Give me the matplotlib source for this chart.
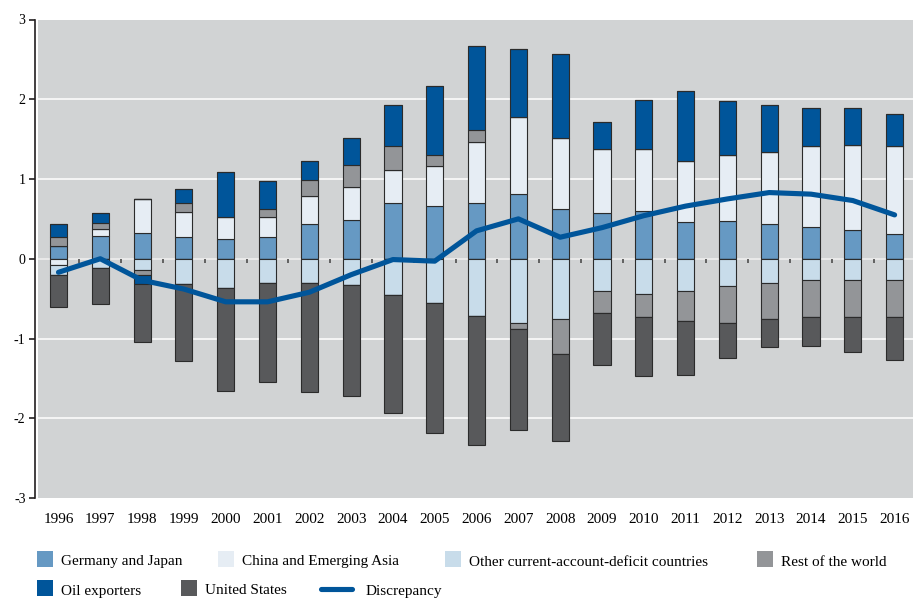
import numpy as np
import matplotlib
matplotlib.use("Agg")
import matplotlib.pyplot as plt
from matplotlib.patches import Rectangle
from matplotlib.lines import Line2D

plt.rcParams['font.family'] = ['Liberation Serif', 'DejaVu Serif']

years = list(range(1996, 2017))

# current-account balances, % of world GDP
germany_japan = [0.165, 0.28, 0.32, 0.27, 0.25, 0.27, 0.44, 0.48, 0.70, 0.66, 0.70,
                 0.81, 0.62, 0.57, 0.60, 0.46, 0.47, 0.43, 0.40, 0.36, 0.31]
china_asia = [-0.08, 0.09, 0.43, 0.32, 0.27, 0.25, 0.35, 0.42, 0.41, 0.50, 0.76,
              0.97, 0.89, 0.80, 0.78, 0.77, 0.83, 0.91, 1.01, 1.07, 1.11]
other_deficit = [-0.12, -0.11, -0.14, -0.32, -0.37, -0.30, -0.30, -0.325, -0.45, -0.55, -0.72,
                 -0.80, -0.75, -0.41, -0.44, -0.41, -0.34, -0.30, -0.27, -0.27, -0.27]
rest_world = [0.105, 0.08, -0.07, 0.11, 0.0, 0.11, 0.20, 0.27, 0.31, 0.14, 0.15,
              -0.08, -0.44, -0.27, -0.29, -0.37, -0.46, -0.46, -0.46, -0.46, -0.46]
oil_exporters = [0.17, 0.12, -0.11, 0.17, 0.57, 0.35, 0.24, 0.34, 0.51, 0.86, 1.06,
                 0.85, 1.06, 0.35, 0.61, 0.87, 0.675, 0.59, 0.48, 0.46, 0.39]
united_states = [-0.41, -0.46, -0.725, -0.96, -1.29, -1.24, -1.37, -1.40, -1.49, -1.64, -1.61,
                 -1.27, -1.10, -0.65, -0.74, -0.68, -0.445, -0.35, -0.37, -0.44, -0.54]
discrepancy = [-0.17, 0.0, -0.27, -0.38, -0.54, -0.54, -0.42, -0.20, -0.01, -0.03, 0.35,
               0.50, 0.27, 0.39, 0.54, 0.66, 0.75, 0.83, 0.81, 0.73, 0.55]

series = [
    ('Germany and Japan', germany_japan, '#6699c3'),
    ('China and Emerging Asia', china_asia, '#e6edf4'),
    ('Other current-account-deficit countries', other_deficit, '#c8dcea'),
    ('Rest of the world', rest_world, '#939598'),
    ('Oil exporters', oil_exporters, '#00559a'),
    ('United States', united_states, '#58595b'),
]

W, H = 913, 599
fig = plt.figure(figsize=(W / 100, H / 100), dpi=100)
ax = fig.add_axes([38 / W, 1 - 498 / H, (W - 38) / W, (498 - 19.5) / H])
ax.set_facecolor('#d1d3d4')

x = np.arange(len(years))
pos_base = np.zeros(len(years))
neg_base = np.zeros(len(years))
for name, vals, col in series:
    v = np.array(vals)
    p = np.where(v > 0, v, 0)
    n = np.where(v < 0, v, 0)
    ax.bar(x, p, 0.41, bottom=pos_base, color=col, edgecolor='#2b2b2b', linewidth=0.8, zorder=3)
    ax.bar(x, n, 0.41, bottom=neg_base, color=col, edgecolor='#2b2b2b', linewidth=0.8, zorder=3)
    pos_base += p
    neg_base += n

ax.plot(x, discrepancy, color='#00559a', lw=3.7, solid_capstyle='round', zorder=5)

for yv in [-2, -1, 1, 2]:
    ax.axhline(yv, color='white', lw=1.1, zorder=1)
ax.axhline(0, color='#ececec', lw=1.3, zorder=2)
ax.vlines(x[:-1] + 0.5, -0.055, 0, color='#4d4d4d', lw=1.2, zorder=2)

ax.set_xlim(-0.49, 20.44)
ax.set_ylim(-3, 3)
ax.set_yticks(range(-3, 4))
ax.set_yticklabels(['-3', '-2', '-1', '0', '1', '2', '3'], fontsize=11.5)
ax.set_xticks(x)
ax.set_xticklabels([str(y) for y in years], fontsize=11)
ax.tick_params(axis='x', length=0, pad=11)
ax.tick_params(axis='y', length=4, width=1.2, color='#231f20', pad=3)
for s in ['top', 'right', 'bottom']:
    ax.spines[s].set_visible(False)
ax.spines['left'].set_position(('outward', 2))
ax.spines['left'].set_color('#231f20')
ax.spines['left'].set_linewidth(1.2)

# legend, laid out by hand in two rows
def fx(px):
    return px / W

def fy(py):
    return 1 - py / H

row1 = [(37, 'Germany and Japan', '#6699c3'),
        (218, 'China and Emerging Asia', '#e6edf4'),
        (445, 'Other current-account-deficit countries', '#c8dcea'),
        (757, 'Rest of the world', '#939598')]
row2 = [(37, 'Oil exporters', '#00559a'),
        (181, 'United States', '#58595b')]

for rowy, items in [(551, row1), (580, row2)]:
    for px, label, col in items:
        fig.add_artist(Rectangle((fx(px), fy(rowy + 16)), 16 / W, 16 / H,
                                 transform=fig.transFigure, color=col, lw=0))
        fig.text(fx(px + 24), fy(rowy + 11), label, fontsize=11, va='center', ha='left')

fig.add_artist(Line2D([fx(321), fx(352)], [fy(589), fy(589)], transform=fig.transFigure,
                      color='#00559a', lw=3.7, solid_capstyle='round'))
fig.text(fx(366), fy(591), 'Discrepancy', fontsize=11, va='center', ha='left')

fig.savefig('out.png', dpi=100)
